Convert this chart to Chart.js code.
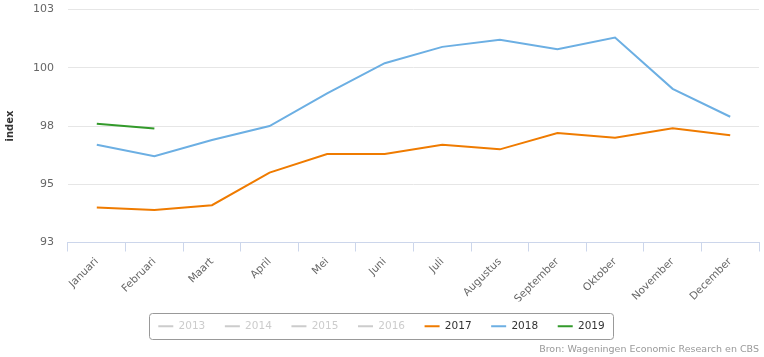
<!DOCTYPE html>
<html><head><meta charset="utf-8">
<script src="https://cdn.jsdelivr.net/npm/chart.js@4.4.1/dist/chart.umd.min.js"></script>
<style>html,body{margin:0;padding:0;background:#fff}#wrap{width:764px;height:357px}</style>
</head><body><div id="wrap"><canvas id="c"></canvas></div>
<script>
const months = ["Januari","Februari","Maart","April","Mei","Juni","Juli","Augustus","September","Oktober","November","December"];
const years = ["2013","2014","2015","2016","2017","2018","2019"];
const v2017 = [94.0,93.9,94.1,95.5,96.3,96.3,96.7,96.5,97.2,97.0,97.4,97.1];
const v2018 = [96.7,96.2,96.9,97.5,98.9,100.2,100.9,101.2,100.8,101.3,99.1,97.9];
const v2019 = [97.6,97.4];
const yTicks = [92.5,95,97.5,100,102.5];

const colors = ["#cccccc","#cccccc","#cccccc","#cccccc","#ef7b00","#6cafe3","#339a2b"];
const series = [[],[],[],[],v2017,v2018,v2019];

const legendBorder = {
  id:'legendBorder',
  afterDraw(chart){
    const lg = chart.legend; if(!lg || !lg.legendHitBoxes.length) return;
    const hb = lg.legendHitBoxes;
    let x0 = Math.min(...hb.map(h=>h.left)), x1 = Math.max(...hb.map(h=>h.left+h.width));
    let y0 = Math.min(...hb.map(h=>h.top)), y1 = Math.max(...hb.map(h=>h.top+h.height));
    const ctx = chart.ctx; ctx.save();
    ctx.strokeStyle = '#999'; ctx.lineWidth = 1;
    const l = Math.round(x0-9)+0.5, t = Math.round(y0-8)+0.5, w = Math.round(x1-x0+18), h = Math.round(y1-y0+15), r=3;
    ctx.beginPath();
    ctx.moveTo(l+r,t); ctx.lineTo(l+w-r,t); ctx.quadraticCurveTo(l+w,t,l+w,t+r);
    ctx.lineTo(l+w,t+h-r); ctx.quadraticCurveTo(l+w,t+h,l+w-r,t+h);
    ctx.lineTo(l+r,t+h); ctx.quadraticCurveTo(l,t+h,l,t+h-r);
    ctx.lineTo(l,t+r); ctx.quadraticCurveTo(l,t,l+r,t); ctx.stroke();
    ctx.restore();
  }
};

new Chart(document.getElementById('c'), {
  type:'line',
  data:{
    labels: months,
    datasets: years.map((y,i)=>({label:y,data:series[i],borderColor:colors[i],backgroundColor:colors[i],borderWidth:2,pointRadius:0,pointHoverRadius:0,tension:0,fill:false}))
  },
  options:{
    responsive:true, maintainAspectRatio:false, animation:false,
    layout:{padding:{left:4,right:5,top:0,bottom:2}},
    scales:{
      x:{
        offset:true,
        border:{color:'#ccd6eb'},
        grid:{display:true,offset:true,drawOnChartArea:false,drawTicks:true,tickLength:9,color:'#ccd6eb'},
        ticks:{autoSkip:false,minRotation:45,maxRotation:45,color:'#666',font:{family:'DejaVu Sans',size:10.5},padding:4},
        afterFit(axis){ axis.height = 59; }
      },
      y:{
        min:92.5,max:102.5,
        afterBuildTicks(axis){axis.ticks = yTicks.map(v=>({value:v}));},
        border:{display:false},
        grid:{color:'#e6e6e6',drawTicks:true,tickLength:11,tickColor:'rgba(0,0,0,0)'},
        ticks:{color:'#666',font:{family:'DejaVu Sans',size:11},padding:3,callback:(v)=>String(Math.round(v))},
        title:{display:true,text:'index',color:'#333',font:{family:'DejaVu Sans',size:10,weight:'bold'},padding:{top:0,bottom:14}}
      }
    },
    plugins:{
      legend:{
        position:'bottom',
        labels:{
          boxWidth:15,boxHeight:2,padding:19.6,color:'#333',font:{family:'DejaVu Sans',size:10.5},
          generateLabels(chart){
            return chart.data.datasets.map((d,i)=>({text:d.label,fillStyle:colors[i],strokeStyle:colors[i],lineWidth:0,hidden:false,datasetIndex:i,fontColor:i<4?'#cccccc':'#333'}));
          }
        },
        onClick:()=>{}
      },
      subtitle:{display:true,position:'bottom',align:'end',text:'Bron: Wageningen Economic Research en CBS',color:'#999',font:{family:'DejaVu Sans',size:9.5,weight:'normal'},padding:{top:2,bottom:0}},
      tooltip:{enabled:false}
    }
  },
  plugins:[legendBorder]
});
</script></body></html>
